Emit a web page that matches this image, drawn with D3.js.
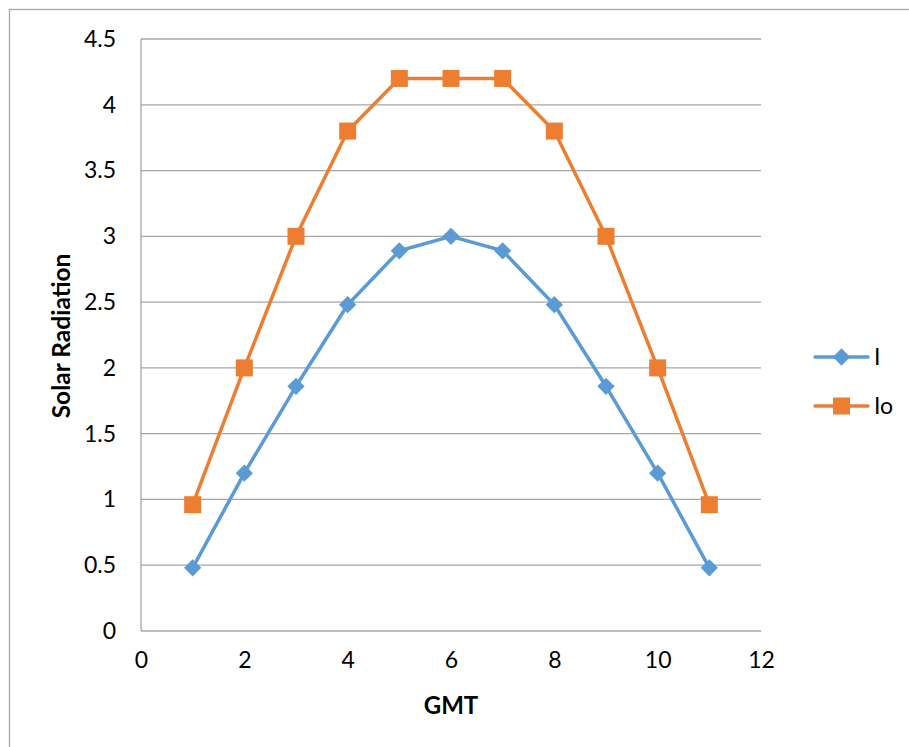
<!DOCTYPE html>
<html><head><meta charset="utf-8">
<script src="https://cdn.jsdelivr.net/npm/d3@7"></script>
<style>body{margin:0;background:#fff}svg{display:block}text{font-family:Lato,"Open Sans",sans-serif}</style>
</head><body>
<svg id="c" width="909" height="747"></svg>
<script>
const gmt = [1,2,3,4,5,6,7,8,9,10,11];
const seriesI = [0.48,1.2,1.86,2.48,2.89,3.0,2.89,2.48,1.86,1.2,0.48];
const seriesIo = [0.96,2.0,3.0,3.8,4.2,4.2,4.2,3.8,3.0,2.0,0.96];
const xTicks = [0,2,4,6,8,10,12];
const yTicks = [0,0.5,1,1.5,2,2.5,3,3.5,4,4.5];
const names = ["I","Io"];
const colors = ["#5B9BD5","#ED7D31"];

const svg = d3.select("#c");
svg.append("rect").attr("x",9.5).attr("y",9.5).attr("width",920).attr("height",760)
  .attr("fill","#fff").attr("stroke","#A6A6A6").attr("stroke-width",1.3);

const x = d3.scaleLinear().domain([0,12]).range([141,761]);
const y = d3.scaleLinear().domain([0,4.5]).range([631,39]);

svg.append("g").selectAll("line").data(yTicks).join("line")
  .attr("x1",x(0)).attr("x2",x(12)).attr("y1",d=>y(d)).attr("y2",d=>y(d))
  .attr("stroke","#A6A6A6").attr("stroke-width",1.3);
svg.append("line").attr("x1",x(0)).attr("x2",x(0)).attr("y1",y(0)).attr("y2",y(4.5))
  .attr("stroke","#A6A6A6").attr("stroke-width",1.3);

const yAxis = d3.axisLeft(y).tickValues(yTicks).tickSize(0).tickPadding(25).tickFormat(d3.format("~g"));
const gy = svg.append("g").attr("transform",`translate(${x(0)},0)`).call(yAxis);
gy.select(".domain").remove();
gy.selectAll("text").attr("font-size",23).attr("fill","#000").attr("font-family","Lato");

const xAxis = d3.axisBottom(x).tickValues(xTicks).tickSize(0).tickPadding(21).tickFormat(d3.format("~g"));
const gx = svg.append("g").attr("transform",`translate(0,${y(0)})`).call(xAxis);
gx.select(".domain").remove();
gx.selectAll("text").attr("font-size",23).attr("fill","#000").attr("font-family","Lato");

svg.append("text").attr("x",451).attr("y",714).attr("text-anchor","middle")
  .attr("font-size",24).attr("font-weight","bold").text("GMT");
svg.append("text").attr("transform","translate(70,336) rotate(-90)").attr("text-anchor","middle")
  .attr("font-size",24.5).attr("font-weight","bold").text("Solar Radiation");

const line = d3.line().x((d,i)=>x(gmt[i])).y(d=>y(d));
const data = [seriesI, seriesIo];
const diamond = d3.symbol().type(d3.symbolDiamond2).size(190);

data.forEach((s,k)=>{
  svg.append("path").attr("d",line(s)).attr("fill","none").attr("stroke",colors[k])
    .attr("stroke-width",3.5).attr("stroke-linejoin","round");
  const g = svg.append("g");
  if(k===0){
    g.selectAll("path").data(s).join("path").attr("d",diamond)
      .attr("transform",(d,i)=>`translate(${x(gmt[i])},${y(d)})`).attr("fill",colors[k]);
  } else {
    g.selectAll("rect").data(s).join("rect")
      .attr("x",(d,i)=>x(gmt[i])-8.5).attr("y",d=>y(d)-8.5).attr("width",17).attr("height",17)
      .attr("fill",colors[k]);
  }
});

const ly = [357,406];
names.forEach((n,k)=>{
  svg.append("line").attr("x1",815).attr("x2",868).attr("y1",ly[k]).attr("y2",ly[k])
    .attr("stroke",colors[k]).attr("stroke-width",3.5).attr("stroke-linecap","round");
  if(k===0){
    svg.append("path").attr("d",diamond).attr("transform",`translate(841.5,${ly[k]})`).attr("fill",colors[k]);
  } else {
    svg.append("rect").attr("x",833).attr("y",ly[k]-8.5).attr("width",17).attr("height",17).attr("fill",colors[k]);
  }
  svg.append("text").attr("x",874).attr("y",ly[k]+8).attr("font-size",23).text(n);
});
</script>
</body></html>
